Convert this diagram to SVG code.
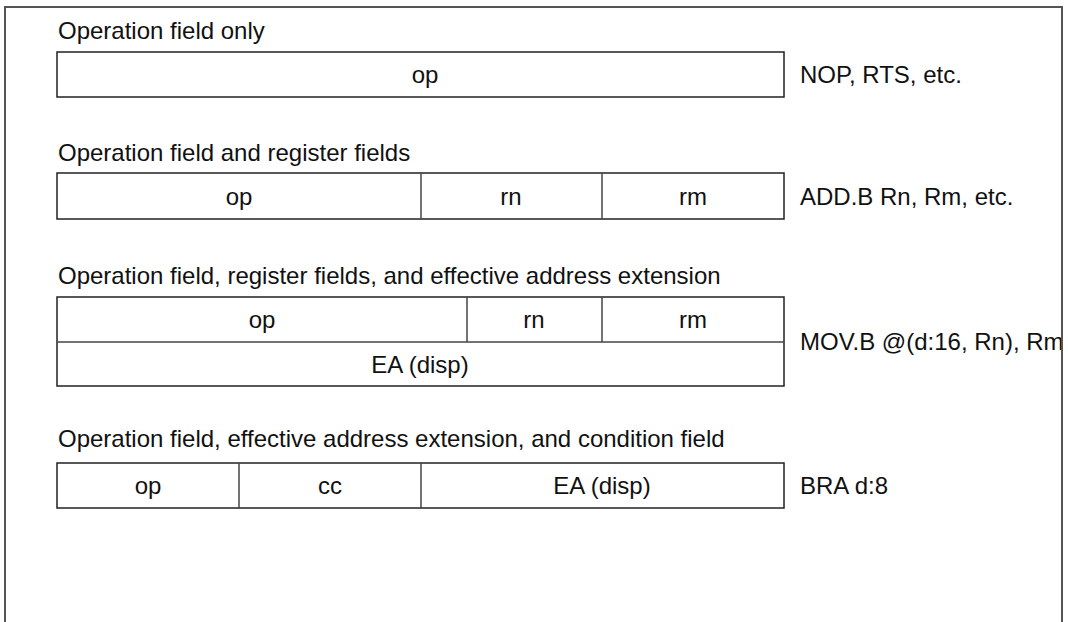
<svg xmlns="http://www.w3.org/2000/svg" width="1068" height="622" viewBox="0 0 1068 622">
<style>
text{font-family:"Liberation Sans",Arial,sans-serif;font-size:24px;fill:#111}
.c{text-anchor:middle}
.box{fill:#fff;stroke:#222;stroke-width:1.5}
.div{stroke:#444;stroke-width:1.5}
</style>
<defs><clipPath id="clip"><rect x="0" y="0" width="1061" height="622"/></clipPath></defs>
<rect x="0" y="0" width="1068" height="622" fill="#fff"/>
<path d="M5,640 V7 H1062 V640" fill="none" stroke="#555" stroke-width="2"/>
<g id="g1">
<text x="58" y="38.5">Operation field only</text>
<rect class="box" x="57" y="52" width="727" height="45"/>
<text class="c" x="425" y="83">op</text>
<text x="800" y="83">NOP, RTS, etc.</text>
</g>
<g id="g2">
<text x="58" y="161">Operation field and register fields</text>
<rect class="box" x="57" y="173" width="727" height="46"/>
<line class="div" x1="421" y1="173" x2="421" y2="219"/>
<line class="div" x1="602" y1="173" x2="602" y2="219"/>
<text class="c" x="239" y="204.5">op</text>
<text class="c" x="511" y="204.5">rn</text>
<text class="c" x="693" y="204.5">rm</text>
<text x="800" y="204.5">ADD.B Rn, Rm, etc.</text>
</g>
<g id="g3">
<text x="58" y="284">Operation field, register fields, and effective address extension</text>
<rect class="box" x="57" y="297" width="727" height="89"/>
<line class="div" x1="57" y1="342" x2="784" y2="342"/>
<line class="div" x1="467" y1="297" x2="467" y2="342"/>
<line class="div" x1="602" y1="297" x2="602" y2="342"/>
<text class="c" x="262" y="328">op</text>
<text class="c" x="534" y="328">rn</text>
<text class="c" x="693" y="328">rm</text>
<text class="c" x="420" y="372.5">EA (disp)</text>
<text x="800" y="349.5" clip-path="url(#clip)">MOV.B @(d:16, Rn), Rm</text>
</g>
<g id="g4">
<text x="58" y="447">Operation field, effective address extension, and condition field</text>
<rect class="box" x="57" y="463" width="727" height="45"/>
<line class="div" x1="239" y1="463" x2="239" y2="508" stroke="#777"/>
<line class="div" x1="421" y1="463" x2="421" y2="508"/>
<text class="c" x="148" y="493.5">op</text>
<text class="c" x="330" y="493.5">cc</text>
<text class="c" x="602" y="493.5">EA (disp)</text>
<text x="800" y="493.5">BRA d:8</text>
</g>
<g id="connectors"></g>
</svg>
